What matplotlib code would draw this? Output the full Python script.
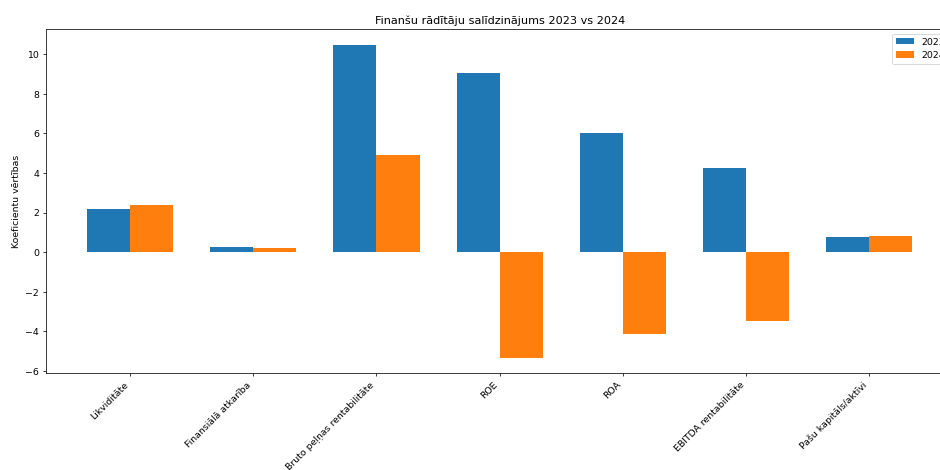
import numpy as np
import matplotlib
matplotlib.use('Agg')
import matplotlib.pyplot as plt

# values
categories = ['Likviditāte', 'Finansiālā atkarība', 'Bruto peļņas rentabilitāte',
              'ROE', 'ROA', 'EBITDA rentabilitāte', 'Pašu kapitāls/aktīvi']
vals_2023 = [2.17, 0.25, 10.48, 9.06, 6.04, 4.26, 0.79]
vals_2024 = [2.37, 0.19, 4.91, -5.32, -4.14, -3.45, 0.83]
series_labels = ['2023', '2024']

x = np.arange(len(categories))
width = 0.35

# 14x7 in figure rendered at reduced dpi -> 941x470 px
fig = plt.figure(figsize=(14, 7), dpi=67.2)
ax = fig.add_axes([0.0484, 0.2057, 0.9654, 0.732])

ax.bar(x - width/2, vals_2023, width, label=series_labels[0])
ax.bar(x + width/2, vals_2024, width, label=series_labels[1])

ax.set_xticks(x)
ax.set_xticklabels(categories, rotation=45, ha='right')
ax.set_ylabel('Koeficientu vērtības')
ax.set_title('Finanšu rādītāju salīdzinājums 2023 vs 2024')
ax.legend(loc='upper right')

fig.savefig('out.png', dpi=67.2)
